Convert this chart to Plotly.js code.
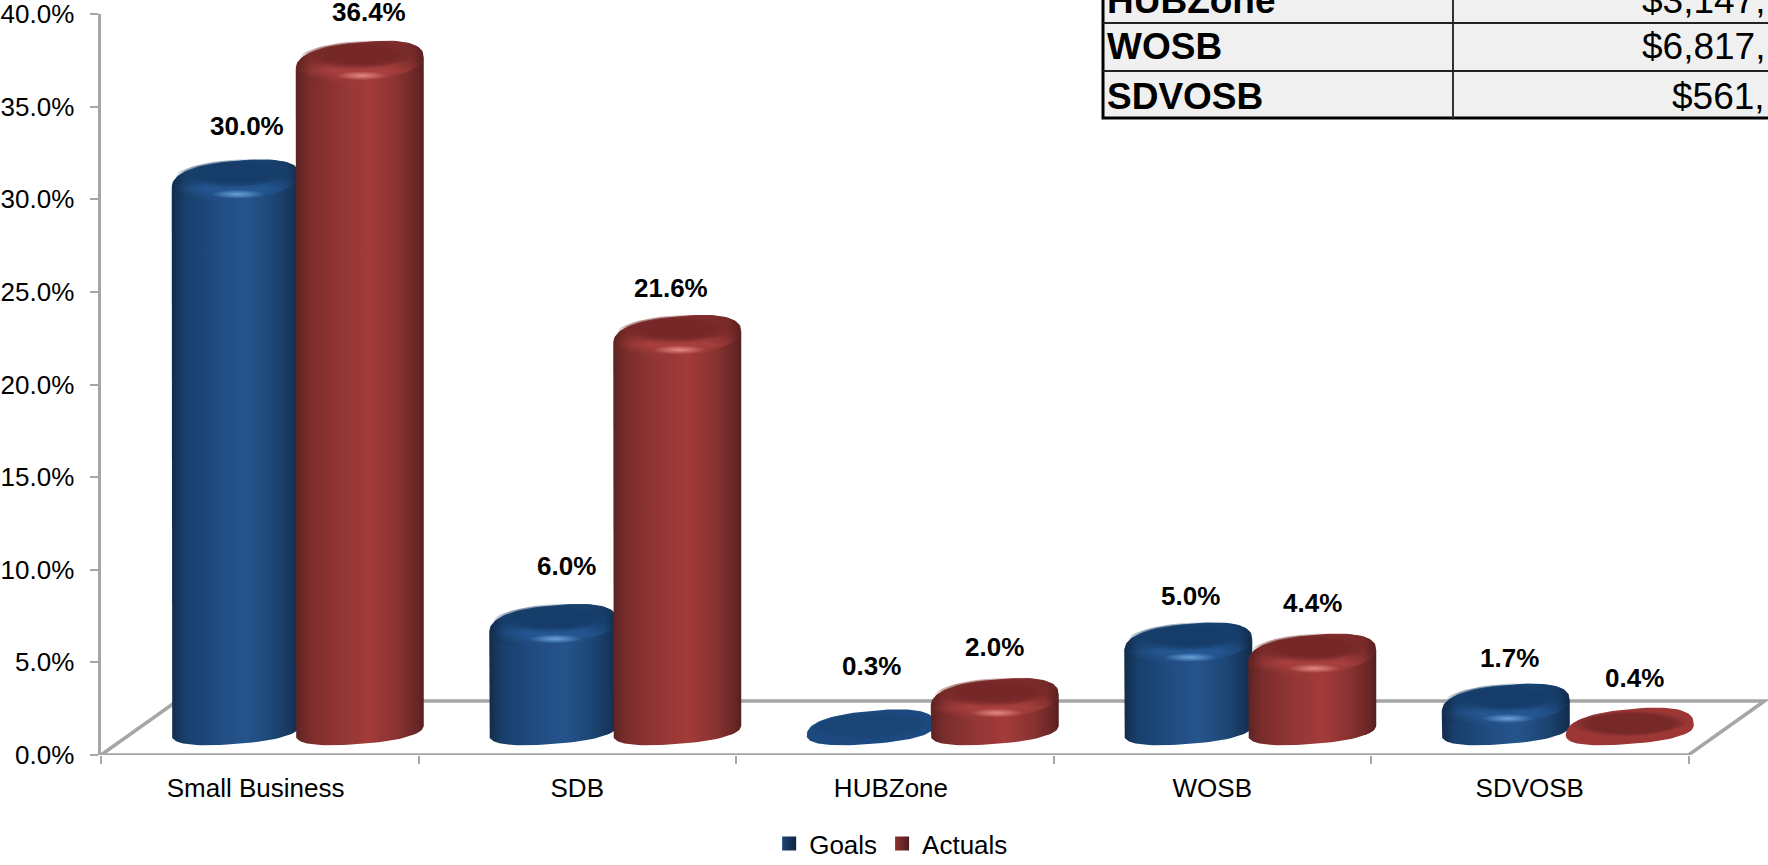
<!DOCTYPE html>
<html>
<head>
<meta charset="utf-8">
<script src="https://cdn.plot.ly/plotly-3.0.1.min.js"></script>
<style>html,body{margin:0;padding:0;background:#fff;overflow:hidden}#chart{width:1768px;height:865px}</style>
</head>
<body>
<div id="chart"></div>
<script>
// Small business contracting: goals against actuals, percent of eligible dollars
const categories = ['Small Business', 'SDB', 'HUBZone', 'WOSB', 'SDVOSB'];
const goals = [30.0, 6.0, 0.3, 5.0, 1.7];
const actuals = [36.4, 21.6, 2.0, 4.4, 0.4];

// Dollar table in the upper right; amounts run off the page edge
const tableRows = ['HUBZone', 'WOSB', 'SDVOSB'];
const tableAmounts = ['$3,147,', '$6,817,', '$561,'];

// Per-label pixel nudges for the value labels
const goalLabelDx = [11, 13, 1, 2, 4];
const goalLabelLift = [48, 53, 58, 41, 41];
const actualLabelDx = [9, -6, 0, 0, 5];
const actualLabelLift = [44, 42, 46, 45, 45];

// Plot frame in page pixels
const LEFT = 101, BOTTOM = 755, TOP = 14, W = 1768, H = 865;
const PX_PER_CAT = 317.5;
const PX_PER_PCT = (BOTTOM - TOP) / 40;
const dx = p => p / PX_PER_CAT;
const dy = p => p / PX_PER_PCT;
const paperX = p => (p - LEFT) / (W - LEFT);
const paperY = p => (BOTTOM - p) / (BOTTOM - TOP);

const FONT = '"Liberation Sans", Arial, sans-serif';
const GREY = '#a6a6a6';

// Floor depth of the pseudo-3D box
const DEPTH_X = dx(76), DEPTH_Y = dy(54);
// Cylinder base centre sits on the floor, above the front axis
const BASE = dy(25);
const PAIR_SHIFT = dx(38);
const HALF = dx(64);

const palette = {
  goals: {
    side: [[0, '#122c4a'], [0.1, '#193f6c'], [0.35, '#1f4b80'], [0.58, '#25548c'], [0.8, '#1d4675'], [0.94, '#16355a'], [1, '#11294a']],
    rimTop: '#184270', rimMid: '#1c4a7e', rimLow: '#245692', rimFade: 'rgba(36,84,140,0)',
    edge: 'rgba(14,36,62,0.8)', edgeMid: 'rgba(14,36,62,0.25)', edgeFade: 'rgba(14,36,62,0)',
    face: '#163d69', faceFade: 'rgba(22,61,105,0)', disc: '#1c4a80', discFace: '#1a4577',
    glow: '#6ba3dc', glowMid: 'rgba(107,163,220,0.55)', glowFade: 'rgba(107,163,220,0)'
  },
  actuals: {
    side: [[0, '#5c2322'], [0.1, '#7a2d2b'], [0.35, '#923635'], [0.58, '#a33b39'], [0.8, '#883231'], [0.94, '#6a2726'], [1, '#552020']],
    rimTop: '#7f2d2c', rimMid: '#8f3433', rimLow: '#a7403e', rimFade: 'rgba(163,59,57,0)',
    edge: 'rgba(80,28,27,0.8)', edgeMid: 'rgba(80,28,27,0.25)', edgeFade: 'rgba(80,28,27,0)',
    face: '#752827', faceFade: 'rgba(117,40,39,0)', disc: '#9c3736', discFace: '#772927',
    glow: '#e58a82', glowMid: 'rgba(229,138,130,0.55)', glowFade: 'rgba(229,138,130,0)'
  }
};

// Point on a tilted superellipse, t in radians. Right side rises by `tilt`.
function rimPoint(cx, cy, a, amp, tilt, t, n) {
  const c = Math.cos(t), s = Math.sin(t);
  const ux = Math.sign(c) * Math.pow(Math.abs(c), 2 / n);
  const uy = Math.sign(s) * Math.pow(Math.abs(s), 2 / n);
  return [cx + a * ux, cy + amp * uy + tilt * ux];
}

function arc(cx, cy, a, amp, tilt, from, to, n) {
  const xs = [], ys = [], steps = 48;
  for (let i = 0; i <= steps; i++) {
    const p = rimPoint(cx, cy, a, amp, tilt, from + (to - from) * i / steps, n);
    xs.push(p[0]); ys.push(p[1]);
  }
  return [xs, ys];
}

function blob(xy, fillgradient, fillcolor) {
  const t = {
    type: 'scatter', mode: 'lines', x: xy[0], y: xy[1], fill: 'toself',
    line: {width: 0, color: 'rgba(0,0,0,0)'},
    hoverinfo: 'skip', showlegend: false
  };
  if (fillgradient) t.fillgradient = fillgradient; else t.fillcolor = fillcolor;
  return t;
}

// One shaded cylinder, built from layered filled outlines in axis units
function cylinder(cx, value, look) {
  const top = BASE + value;
  const height = value * PX_PER_PCT;
  const shoulder = Math.max(top - dy(8), BASE);
  const upAmp = top + dy(15) - shoulder - dy(1.5);
  const tilt = dy(6);
  const upper = arc(cx, shoulder, HALF, upAmp, tilt, 0, Math.PI, 2.5);
  const lower = arc(cx, BASE, HALF, dy(14), dy(5), Math.PI, 2 * Math.PI, 2.4);
  const outline = [upper[0].concat(lower[0]), upper[1].concat(lower[1])];

  // Very short columns read as flat discs with only a dark centre
  if (height < 12) {
    const disc = blob(outline, null, look.disc);
    const discFace = blob(arc(cx, top - dy(1), HALF * 0.94, dy(13), dy(4.5), 0, 2 * Math.PI, 2.0),
      {type: 'radial', colorscale: [[0, look.discFace], [0.7, look.discFace], [1, look.faceFade]]});
    return [disc, discFace];
  }

  const body = blob(outline, {type: 'horizontal', colorscale: look.side});

  // Bevel around the top face, brightest along its front and fading into the side
  const rimReach = Math.min(dy(19), shoulder - BASE + dy(11));
  const rimUp = arc(cx, shoulder, HALF * 0.99, upAmp - dy(0.6), tilt, 0, Math.PI, 2.5);
  const rimDown = arc(cx, shoulder, HALF * 0.99, rimReach, tilt, Math.PI, 2 * Math.PI, 2.0);
  const rimShape = [rimUp[0].concat(rimDown[0]), rimUp[1].concat(rimDown[1])];
  const rim = blob(rimShape,
    {type: 'vertical', colorscale: [[0, look.rimFade], [0.3, look.rimLow], [0.55, look.rimMid], [1, look.rimTop]]});

  // Darkened ends so the bevel turns away with the side of the column
  const edges = blob(rimShape, {type: 'horizontal', colorscale: [
    [0, look.edge], [0.12, look.edgeMid], [0.28, look.edgeFade],
    [0.74, look.edgeFade], [0.9, look.edgeMid], [1, look.edge]]});

  const face = blob(arc(cx, top + dy(1), HALF * 0.96, dy(14), dy(4.5), 0, 2 * Math.PI, 2.0),
    {type: 'radial', colorscale: [[0, look.face], [0.6, look.face], [1, look.faceFade]]});

  // Specular spot on the front of the bevel
  const glow = blob(arc(cx + dx(2), top - dy(20), dx(27), dy(4.5), dy(0.5), 0, 2 * Math.PI, 2.0),
    {type: 'radial', colorscale: [[0, look.glow], [0.45, look.glowMid], [1, look.glowFade]]});

  return [body, rim, edges, face, glow];
}

const traces = [];
const annotations = [];

function valueLabel(x, value, shift, lift) {
  annotations.push({
    x: x, y: BASE + value, xref: 'x', yref: 'y', xshift: shift, yshift: lift,
    text: '<b>' + value.toFixed(1) + '%</b>', showarrow: false,
    xanchor: 'center', yanchor: 'middle',
    font: {family: FONT, size: 26, color: '#000'}
  });
}

categories.forEach((name, i) => {
  const mid = i + 0.5 + PAIR_SHIFT;
  const gx = mid - dx(62), ax = mid + dx(62);
  traces.push(...cylinder(gx, goals[i], palette.goals));
  traces.push(...cylinder(ax, actuals[i], palette.actuals));
  valueLabel(gx, goals[i], goalLabelDx[i], goalLabelLift[i]);
  valueLabel(ax, actuals[i], actualLabelDx[i], actualLabelLift[i]);
});

// Legend keys
[['Goals', '#1b4474', '#0f2440'], ['Actuals', '#8e3230', '#4f1c1b']].forEach(k => {
  traces.push({
    type: 'scatter', mode: 'markers', x: [null], y: [null], name: k[0], hoverinfo: 'skip',
    marker: {symbol: 'square', size: 14, color: k[1], gradient: {type: 'horizontal', color: k[2]}}
  });
});

// Table drawn over the upper right corner
const TBL_L = 1103, TBL_M = 1453, TBL_B = 118;
const rowLines = [23, 71];
const rowMiddles = [0, 47, 96];
const shapes = [{
  type: 'path', layer: 'below', xref: 'x', yref: 'y', line: {color: GREY, width: 3.5},
  path: `M0,0 L${DEPTH_X},${DEPTH_Y} L${5 + DEPTH_X},${DEPTH_Y} L5,0 Z`
}, {
  type: 'rect', xref: 'paper', yref: 'paper', layer: 'above',
  x0: paperX(TBL_L), x1: paperX(1772), y0: paperY(TBL_B), y1: paperY(-6),
  fillcolor: '#f0f0f0', line: {color: '#000', width: 3}
}, {
  type: 'line', xref: 'paper', yref: 'paper', layer: 'above',
  x0: paperX(TBL_M), x1: paperX(TBL_M), y0: paperY(TBL_B), y1: paperY(-6),
  line: {color: '#333', width: 2}
}];
rowLines.forEach(p => shapes.push({
  type: 'line', xref: 'paper', yref: 'paper', layer: 'above',
  x0: paperX(TBL_L), x1: paperX(1772), y0: paperY(p), y1: paperY(p),
  line: {color: '#222', width: 2}
}));
tableRows.forEach((row, i) => {
  annotations.push({
    xref: 'paper', yref: 'paper', x: paperX(1105), y: paperY(rowMiddles[i]),
    text: '<b>' + row + '</b>', showarrow: false, xanchor: 'left', yanchor: 'middle',
    font: {family: FONT, size: 37, color: '#000'}
  });
  annotations.push({
    xref: 'paper', yref: 'paper', x: paperX(1767), y: paperY(rowMiddles[i]),
    text: tableAmounts[i], showarrow: false, xanchor: 'right', yanchor: 'middle',
    font: {family: FONT, size: 37, color: '#000'}
  });
});

const layout = {
  width: W, height: H, autosize: false,
  margin: {l: LEFT, r: 0, t: TOP, b: H - BOTTOM, pad: 0, autoexpand: false},
  paper_bgcolor: '#fff', plot_bgcolor: '#fff',
  font: {family: FONT, size: 26, color: '#000'},
  showlegend: true,
  legend: {
    orientation: 'h', x: 0.474, xanchor: 'center', y: -0.088, yanchor: 'top',
    yref: 'paper', font: {family: FONT, size: 26, color: '#000'},
    itemwidth: 30, tracegroupgap: 0, bgcolor: 'rgba(0,0,0,0)'
  },
  xaxis: {
    type: 'linear', range: [0, (W - LEFT) / PX_PER_CAT], showgrid: false, zeroline: false,
    showline: false, tickmode: 'array',
    tickvals: [0.487, 1.5, 2.488, 3.5, 4.5], ticktext: categories,
    ticks: '', ticklabelstandoff: 15, tickfont: {family: FONT, size: 26, color: '#000'},
    minor: {ticks: 'outside', tick0: 0, dtick: 1, ticklen: 8, tickwidth: 2, tickcolor: GREY, showgrid: false}
  },
  yaxis: {
    range: [0, 40], tick0: 0, dtick: 5, tickformat: '.1f', ticksuffix: '%',
    showgrid: false, zeroline: false, showline: true, linecolor: GREY, linewidth: 3.5,
    ticks: 'outside', ticklen: 8, tickwidth: 2, tickcolor: GREY, ticklabelstandoff: 10,
    ticklabeloverflow: 'allow', tickfont: {family: FONT, size: 26, color: '#000'}
  },
  shapes: shapes,
  annotations: annotations
};

Plotly.newPlot('chart', traces, layout, {displayModeBar: false, staticPlot: true});
</script>
</body>
</html>
